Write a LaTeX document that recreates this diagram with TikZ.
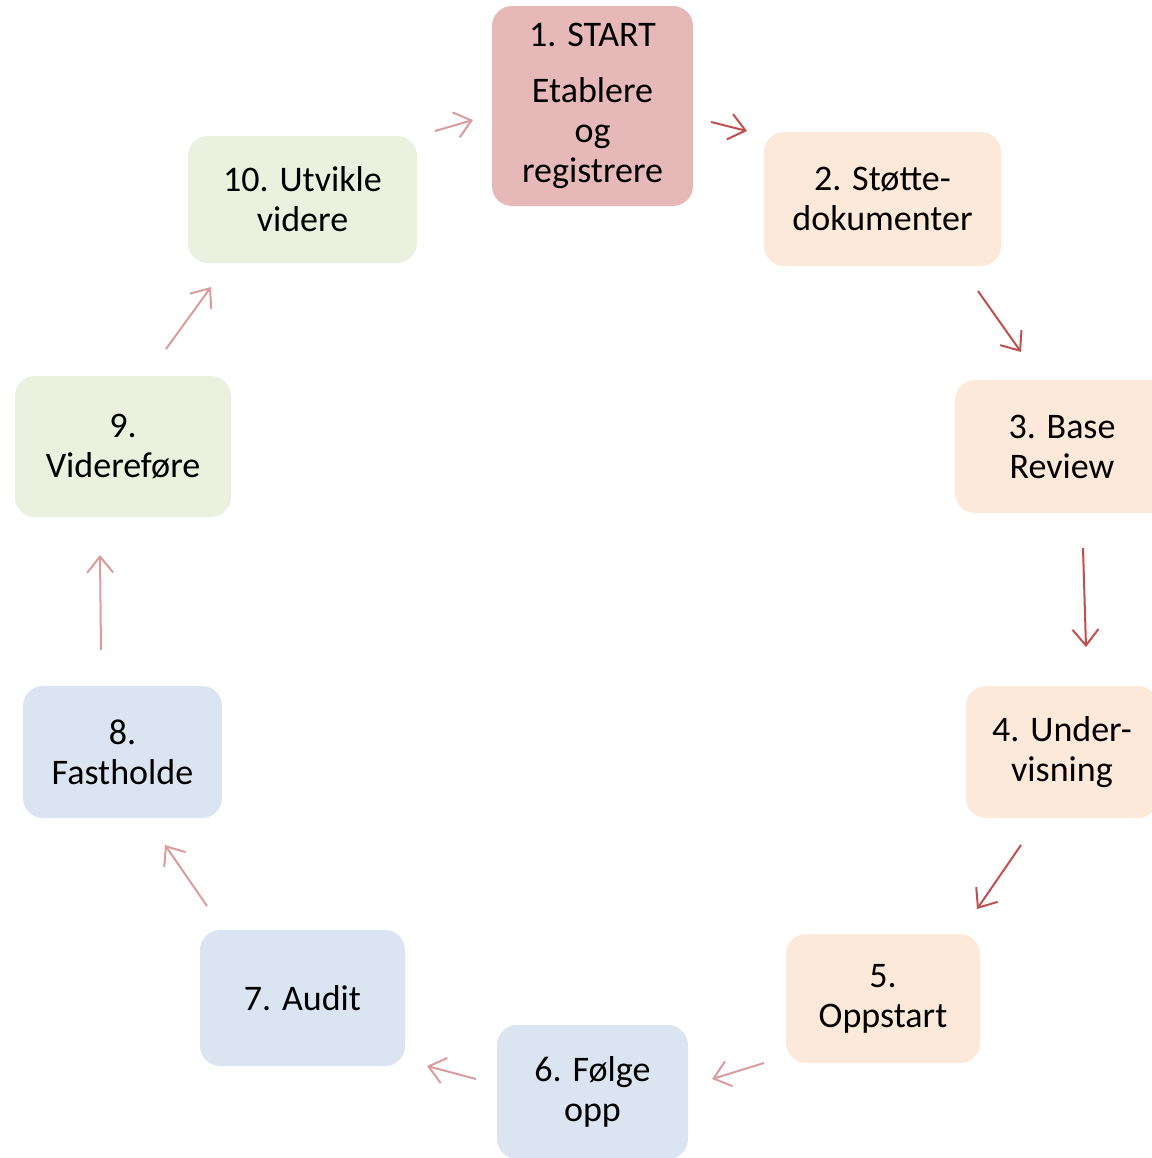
\documentclass[tikz,border=0pt]{standalone}
\usepackage{fontspec}
\setmainfont{Carlito}
\usetikzlibrary{arrows.meta}
\definecolor{startred}{HTML}{E6B9B8}
\definecolor{peach}{HTML}{FDE9D9}
\definecolor{lightblue}{HTML}{DBE5F1}
\definecolor{lightgreen}{HTML}{EBF1DE}
\definecolor{arrowred}{HTML}{C0504D}
\definecolor{arrowpink}{HTML}{DC9C9E}

\begin{document}
\begin{tikzpicture}
  [x=0.5pt, y=-0.5pt,
   stage/.style={rounded corners=10pt, align=center, inner sep=0pt,
     font=\fontsize{18pt}{20pt}\selectfont, text=black},
   flow/.style={-{Straight Barb[length=8pt,width=13pt]}, line width=1pt, arrowpink},
   flowdark/.style={flow, arrowred}]
  \useasboundingbox (0, 0) rectangle (1152, 1158);
  \clip (0, 0) rectangle (1152, 1158);
  \node[stage, fill=startred, minimum width=100.5pt, minimum height=100pt] (start) at (592.5, 106)
    {1. START\\[8pt] Etablere\\ og\\ registrere};
  \node[stage, fill=peach, minimum width=118.5pt, minimum height=67pt] (stotte) at (882.5, 199) {2. Støtte-\\ dokumenter};
  \node[stage, fill=peach, minimum width=107pt, minimum height=66.5pt] (base) at (1062, 446.5) {3. Base\\ Review};
  \node[stage, fill=peach, minimum width=96pt, minimum height=66pt] (under) at (1062, 752) {4. Under-\\ visning};
  \node[stage, fill=peach, minimum width=97pt, minimum height=64.5pt] (oppstart) at (883, 998.5) {5.\\ Oppstart};
  \node[stage, fill=lightblue, minimum width=95.5pt, minimum height=67pt] (folge) at (592.5, 1092) {6. Følge\\ opp};
  \node[stage, fill=lightblue, minimum width=102.5pt, minimum height=68pt] (audit) at (302.5, 998) {7. Audit};
  \node[stage, fill=lightblue, minimum width=99.5pt, minimum height=66pt] (fasthold) at (122.5, 752) {8.\\ Fastholde};
  \node[stage, fill=lightgreen, minimum width=108pt, minimum height=70.5pt] (videre) at (123, 446.5) {9.\\ Videreføre};
  \node[stage, fill=lightgreen, minimum width=114.5pt, minimum height=63.5pt] (utvikle) at (302.5, 199.5) {10. Utvikle\\ videre};
  % arrows round the cycle
  \coordinate (a1) at (435, 131);   \coordinate (b1) at (473, 120);
  \coordinate (a2) at (711, 122);   \coordinate (b2) at (747, 131);
  \coordinate (a3) at (978, 291);   \coordinate (b3) at (1021, 352);
  \coordinate (a4) at (1083, 548);  \coordinate (b4) at (1086, 647);
  \coordinate (a5) at (1021, 845);  \coordinate (b5) at (977, 909);
  \coordinate (a6) at (764, 1063);  \coordinate (b6) at (712, 1079);
  \coordinate (a7) at (476, 1079);  \coordinate (b7) at (427, 1066);
  \coordinate (a8) at (207, 906);   \coordinate (b8) at (165, 845);
  \coordinate (a9) at (101, 650);   \coordinate (b9) at (100, 555);
  \coordinate (a10) at (166, 349);  \coordinate (b10) at (211, 287);
  \draw[flow] (a1) -- (b1);
  \draw[flowdark] (a2) -- (b2);
  \draw[flowdark] (a3) -- (b3);
  \draw[flowdark] (a4) -- (b4);
  \draw[flowdark] (a5) -- (b5);
  \draw[flow] (a6) -- (b6);
  \draw[flow] (a7) -- (b7);
  \draw[flow] (a8) -- (b8);
  \draw[flow] (a9) -- (b9);
  \draw[flow] (a10) -- (b10);
\end{tikzpicture}
\end{document}
